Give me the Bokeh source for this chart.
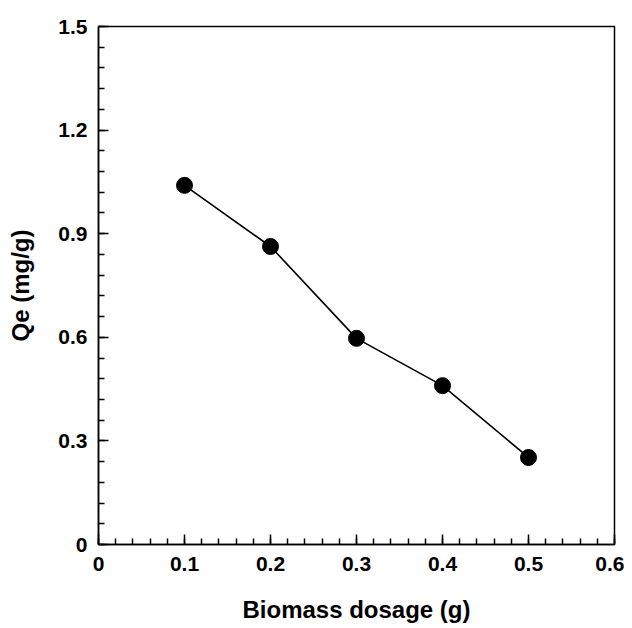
from bokeh.plotting import figure
from bokeh.embed import file_html
from bokeh.resources import INLINE
from bokeh.models import FixedTicker, Range1d

dosage = [0.1, 0.2, 0.3, 0.4, 0.5]
qe = [1.04, 0.863, 0.597, 0.46, 0.252]
x_ticks = [0, 0.1, 0.2, 0.3, 0.4, 0.5, 0.6]
y_ticks = [0, 0.3, 0.6, 0.9, 1.2, 1.5]
x_minor = [round(i * 0.02, 2) for i in range(31)]
y_minor = [round(i * 0.06, 2) for i in range(26)]

p = figure(frame_width=516, frame_height=518, output_backend="svg", toolbar_location=None,
           x_range=Range1d(0, 0.6), y_range=Range1d(0, 1.5),
           min_border_left=98, min_border_right=10, min_border_top=26, min_border_bottom=76)
p.grid.visible = False
p.outline_line_color = "black"
p.outline_line_width = 1.5
p.outline_line_alpha = 1

p.line(dosage, qe, line_color="black", line_width=1.6)
p.scatter(dosage, qe, size=16, fill_color="black", line_color="black")

p.xaxis.ticker = FixedTicker(ticks=x_ticks, minor_ticks=x_minor)
p.yaxis.ticker = FixedTicker(ticks=y_ticks, minor_ticks=y_minor)
p.xaxis.major_label_overrides = {0: "0"}
p.yaxis.major_label_overrides = {0: "0"}

for ax in (p.xaxis[0], p.yaxis[0]):
    ax.major_tick_in = 10
    ax.major_tick_out = 0
    ax.minor_tick_in = 6
    ax.minor_tick_out = 0
    ax.axis_line_width = 1.5
    ax.major_tick_line_width = 1.5
    ax.minor_tick_line_width = 1.5
    ax.major_label_text_font = "Liberation Sans"
    ax.major_label_text_font_style = "bold"
    ax.major_label_text_font_size = "21px"
    ax.major_label_text_color = "black"
    ax.axis_label_text_font = "Liberation Sans"
    ax.axis_label_text_font_style = "bold"
    ax.axis_label_text_font_size = "24px"
    ax.axis_label_text_color = "black"

p.xaxis.axis_label = "Biomass dosage (g)"
p.yaxis.axis_label = "Qe (mg/g)"
p.xaxis.major_label_standoff = 12
p.yaxis.major_label_standoff = 11
p.xaxis.axis_label_standoff = 22
p.yaxis.axis_label_standoff = 21

open("out.html", "w").write(file_html(p, INLINE))
